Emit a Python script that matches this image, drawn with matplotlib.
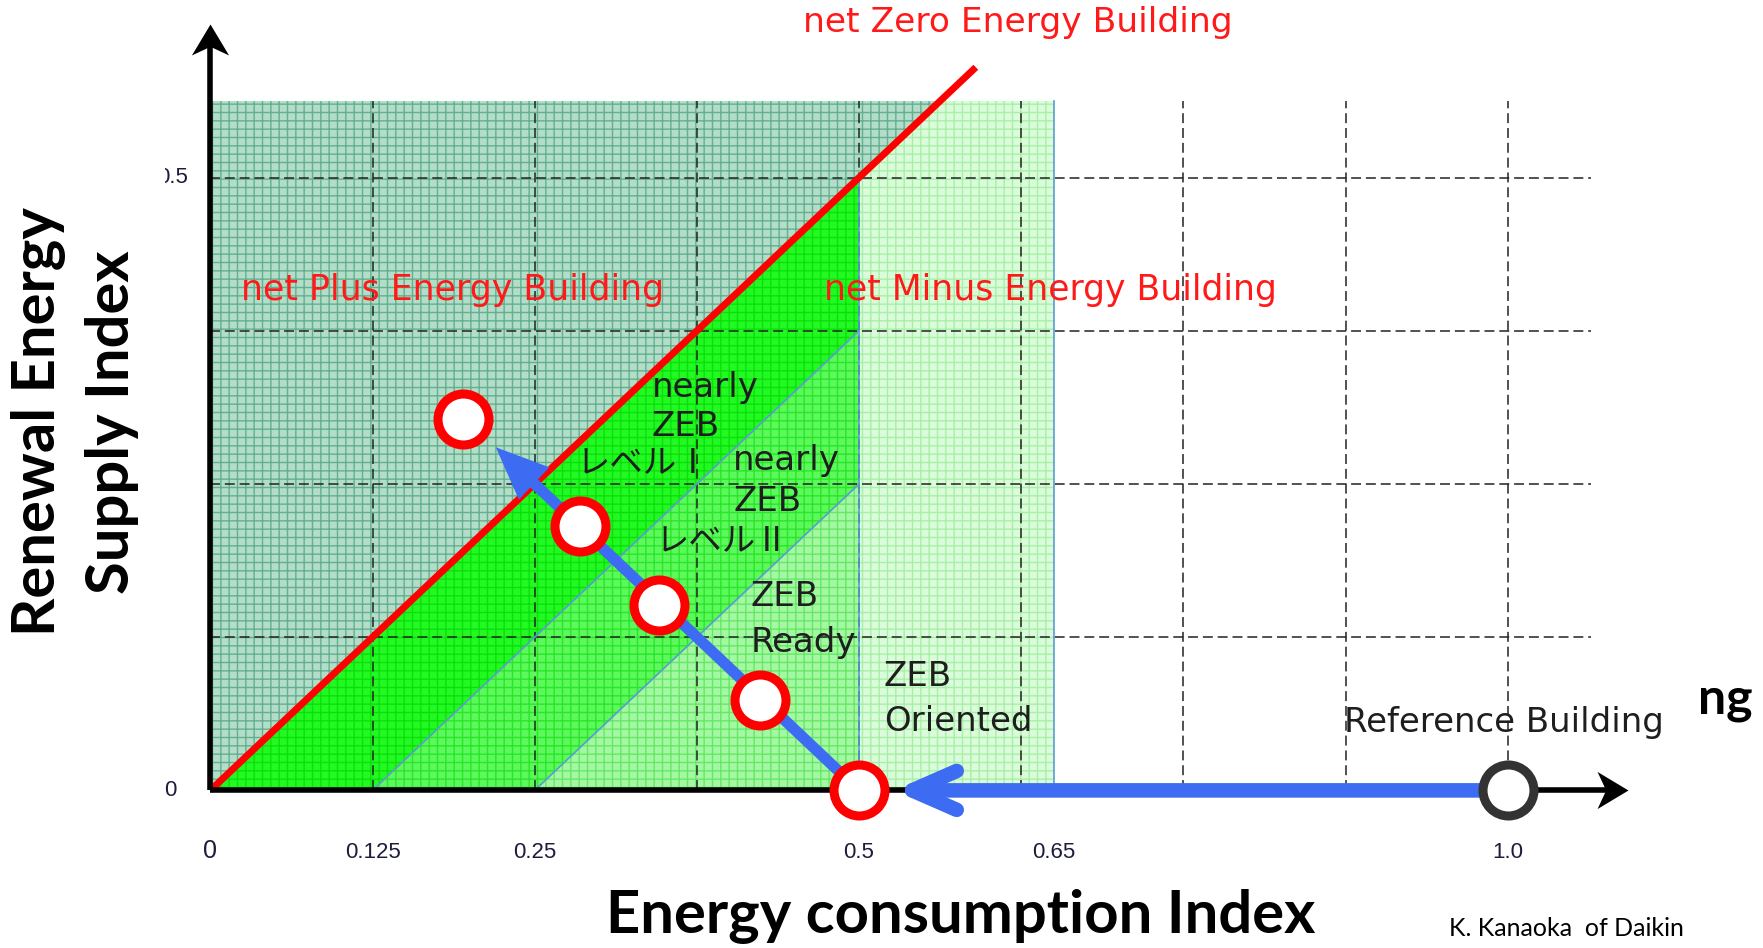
import numpy as np
import matplotlib
matplotlib.use('Agg')
import matplotlib.pyplot as plt
from matplotlib.patches import Polygon, Rectangle
from matplotlib.path import Path
from matplotlib import font_manager as fm

plt.rcParams['font.family'] = ['Noto Sans CJK JP', 'DejaVu Sans']
plt.rcParams['hatch.linewidth'] = 1.0

# ---- data
x_ticks = [0.125, 0.25, 0.5, 0.65, 1.0]
x_tick_labels = ['0.125', '0.25', '0.5', '0.65', '1.0']
grid_x = [0.125, 0.25, 0.375, 0.5, 0.625, 0.75, 0.875, 1.0]
grid_y = [0.125, 0.25, 0.375, 0.5]
y_top = 0.5625          # top of the shaded area
x_minus = 0.65          # right edge of the "net Minus" area
zeb_end = 0.59          # end of the red net-ZEB line
# steps towards the net plus building (on y = 0.5 - x)
step_x = [0.195, 0.285, 0.346, 0.424, 0.5]
step_y = [0.303, 0.216, 0.151, 0.074, 0.0]
ref_x, ref_y = 1.0, 0.0
arrow_tip = (0.22, 0.28)
arrow_h_tip = (0.527, 0.0)

names = {f.name for f in fm.fontManager.ttflist}
narrow = 'Liberation Sans Narrow' if 'Liberation Sans Narrow' in names else 'Liberation Sans'
bold_font = 'Lato' if 'Lato' in names else 'DejaVu Sans'
wide = ['DejaVu Sans', 'Noto Sans CJK JP']
cjk = ['Noto Sans CJK JP', 'DejaVu Sans']

fig = plt.figure(figsize=(17.63, 9.48), dpi=100)
ax = fig.add_axes([0, 0, 1, 1])
ax.set_xlim(-0.1621, 1.1967)
ax.set_ylim(-0.1286, 0.6449)
ax.axis('off')

# ---- shaded zones (face colour, hatch colour)
zones = [
    ([(0, 0), (0, y_top), (y_top, y_top)], '#b3dcc9', '#62b08e'),
    ([(0, 0), (0.125, 0), (0.5, 0.375), (0.5, 0.5)], '#22f822', '#0ce00c'),
    ([(0.125, 0), (0.25, 0), (0.5, 0.25), (0.5, 0.375)], '#5cf85c', '#2ae62a'),
    ([(0.25, 0), (0.5, 0), (0.5, 0.25)], '#a4f8a4', '#66e866'),
    ([(0.5, 0), (x_minus, 0), (x_minus, y_top), (y_top, y_top), (0.5, 0.5)], '#dbfcdb', '#a8efa8'),
]
for pts, fc, hc in zones:
    ax.add_patch(Polygon(pts, closed=True, facecolor=fc, edgecolor=hc, lw=0, hatch='++', zorder=1))

# ---- dashed grid
for gx in grid_x:
    ax.plot([gx, gx], [0, y_top], color='#222222', lw=1.1, ls=(0, (6.5, 3.2)), zorder=2)
for gy in grid_y:
    ax.plot([0, 1.064], [gy, gy], color='#222222', lw=1.1, ls=(0, (6.5, 3.2)), zorder=2)

# thin blue zone borders
thin = '#5b9bd5'
ax.plot([0.125, 0.5], [0, 0.375], color=thin, lw=1.2, zorder=2.5)
ax.plot([0.25, 0.5], [0, 0.25], color=thin, lw=1.2, zorder=2.5)
ax.plot([0.5, 0.5], [0, 0.5], color=thin, lw=1.2, zorder=2.5)
ax.plot([x_minus, x_minus], [0, y_top], color=thin, lw=1.2, zorder=2.5)

# net zero line
ax.plot([0, zeb_end], [0, zeb_end], color='#ff0000', lw=5, solid_capstyle='butt', zorder=3)

# ---- axes with arrow heads
head_r = Path([(0, 0), (-1, 0.6), (-0.72, 0), (-1, -0.6), (0, 0)],
              [Path.MOVETO, Path.LINETO, Path.LINETO, Path.LINETO, Path.CLOSEPOLY])
head_u = Path([(0, 0), (-0.6, -1), (0, -0.72), (0.6, -1), (0, 0)],
              [Path.MOVETO, Path.LINETO, Path.LINETO, Path.LINETO, Path.CLOSEPOLY])
ax.plot([0, 1.08], [0, 0], color='black', lw=4, solid_capstyle='butt', zorder=3.5)
ax.plot([0, 0], [0, 0.615], color='black', lw=4, solid_capstyle='butt', zorder=3.5)
ax.plot(1.093, 0, marker=head_r, ms=44.6, color='black', mew=0, zorder=3.6)
ax.plot(0, 0.625, marker=head_u, ms=44.6, color='black', mew=0, zorder=3.6)

# ---- blue arrows
blue = '#3d6cf2'
ax.annotate('', xy=arrow_h_tip, xytext=(ref_x, ref_y),
            arrowprops=dict(arrowstyle='->,head_length=1.6,head_width=0.7', color=blue, lw=10.5,
                            mutation_scale=20, shrinkA=0, shrinkB=0, capstyle='round', joinstyle='round'),
            zorder=5)
ax.annotate('', xy=arrow_tip, xytext=(step_x[-1], step_y[-1]),
            arrowprops=dict(facecolor=blue, edgecolor='none', width=8, headwidth=32, headlength=38, shrink=0),
            zorder=5)

# ---- circles
ax.plot(step_x, step_y, 'o', ms=36.7, mfc='white', mec='#ff0000', mew=6.5, ls='none', zorder=6)
ax.plot(ref_x, ref_y, 'o', ms=36.7, mfc='white', mec='#333333', mew=6.5, zorder=6)

# ---- texts
red = '#ff1a1a'
ax.text(0.457, 0.6266, 'net Zero Energy Building', color=red, fontsize=24.8, family=wide,
        ha='left', va='center', zorder=4)
ax.text(0.0234, 0.408, 'net Plus Energy Building', color=red, fontsize=25, family=wide,
        ha='left', va='center', zorder=4)
ax.text(0.473, 0.408, 'net Minus Energy Building', color=red, fontsize=24.9, family=wide,
        ha='left', va='center', zorder=4)

dark = '#1e1e1e'
zone_labels = [
    (0.340, 0.329, 'nearly'), (0.340, 0.2965, 'ZEB'),
    (0.403, 0.269, 'nearly'), (0.403, 0.236, 'ZEB'),
    (0.4167, 0.158, 'ZEB'), (0.4167, 0.121, 'Ready'),
    (0.519, 0.0933, 'ZEB'), (0.519, 0.0566, 'Oriented'),
    (0.8737, 0.055, 'Reference Building'),
]
for tx, ty, s in zone_labels:
    ax.text(tx, ty, s, color=dark, fontsize=24.5, family=wide, ha='left', va='center', zorder=4)
for tx, ty, s in [(0.282, 0.267, 'レベルⅠ'), (0.343, 0.204, 'レベルⅡ')]:
    ax.text(tx, ty, s, color=dark, fontsize=24, family=cjk, ha='left', va='center', zorder=4)

# tick labels
tick_col = '#1c1c3c'
ax.text(0, -0.0495, '0', color=tick_col, fontsize=18, family='Liberation Sans', ha='center', va='center')
for tx, s in zip(x_ticks, x_tick_labels):
    ax.text(tx, -0.0505, s, color=tick_col, fontsize=16, family=narrow, ha='center', va='center')
# y tick labels are cut by the left edge of the original picture
clip = Rectangle((-0.035, -0.2), 2, 1, transform=ax.transData)
for ty, s, tx in [(0.5, '0.5', -0.0172), (0.0, '0', -0.0264)]:
    t = ax.text(tx, ty, s, color=tick_col, fontsize=16, family=narrow, ha='right', va='center')
    t.set_clip_path(clip)
    t.set_clip_on(True)

# axis titles
ax.text(0.5786, -0.1025, 'Energy consumption Index', fontsize=43, family=bold_font,
        weight='bold', ha='center', va='center')
ax.text(-0.1043, 0.3006, 'Renewal Energy\nSupply Index', fontsize=43, family=bold_font,
        weight='bold', ha='center', va='center', rotation=90, multialignment='center', linespacing=1.45)
ax.text(1.1466, 0.0738, 'ng', fontsize=36, family=bold_font, weight='bold', ha='left', va='center')
ax.text(1.0449, -0.113, 'K. Kanaoka  of Daikin', fontsize=18, family=bold_font, ha='center', va='center')

plt.savefig('out.png', dpi=100)
